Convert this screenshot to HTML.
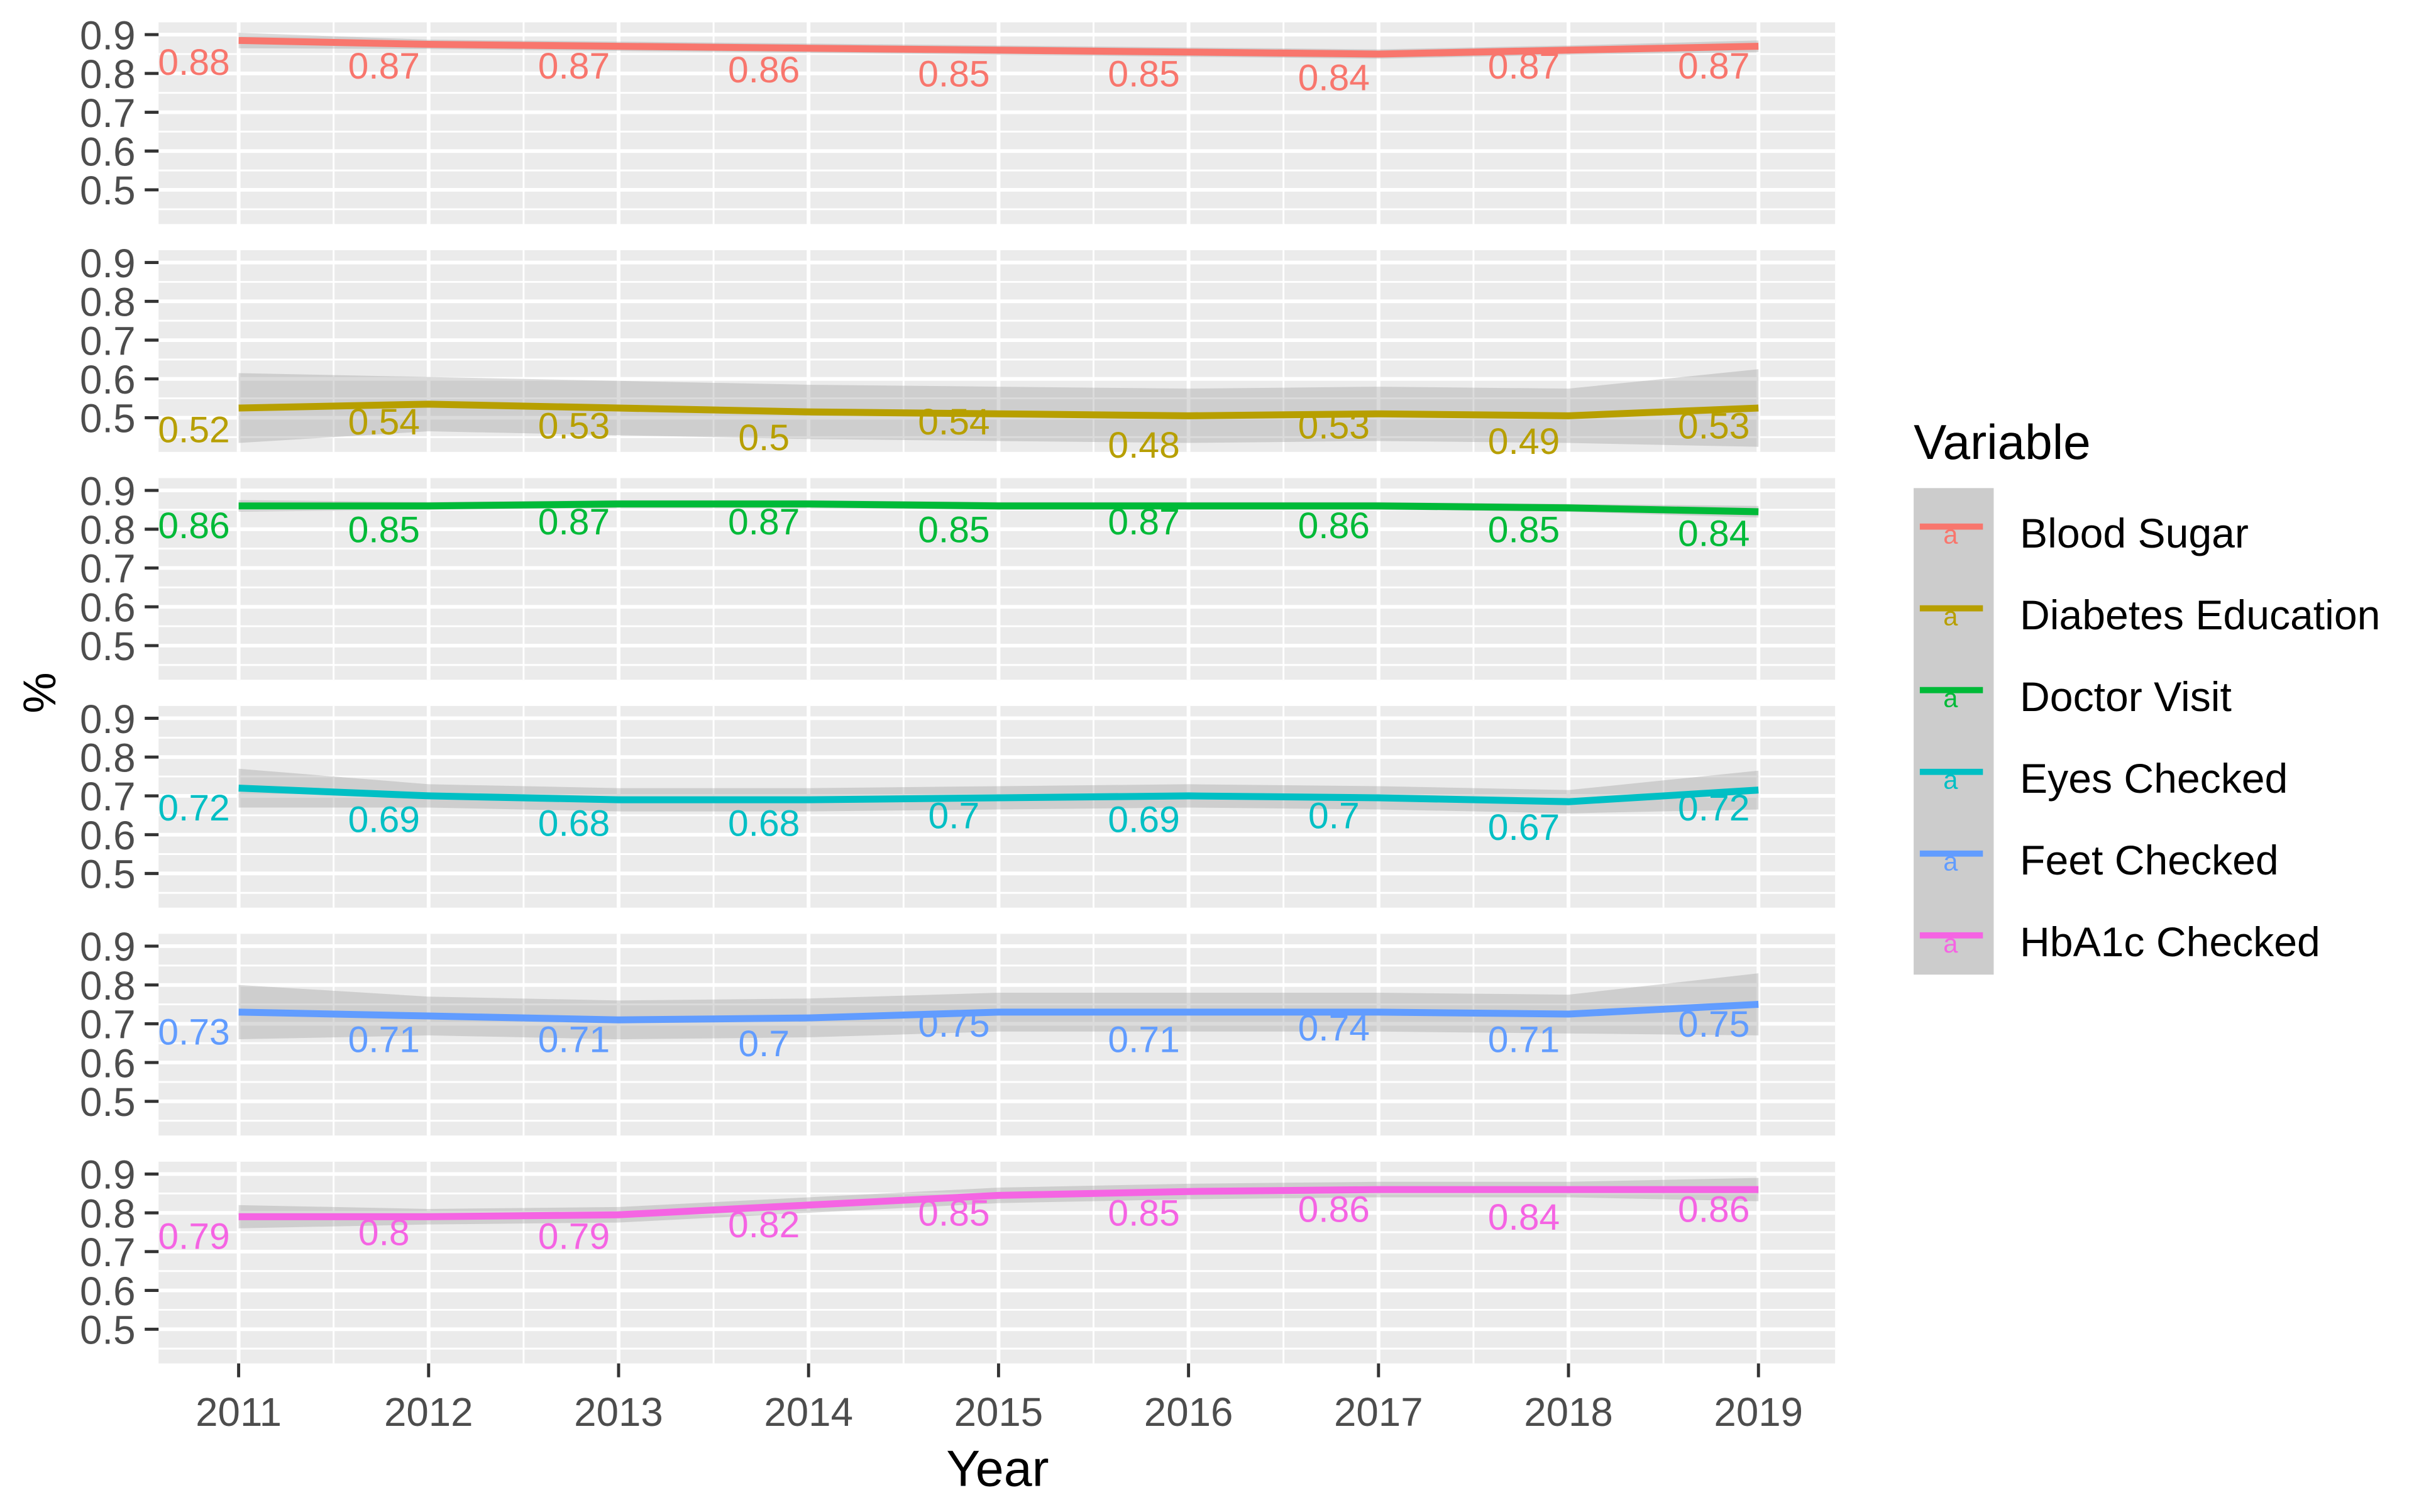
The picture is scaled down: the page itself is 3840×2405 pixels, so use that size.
<!DOCTYPE html>
<html><head><meta charset="utf-8">
<style>html,body{margin:0;padding:0;background:#fff}svg{display:block}text{font-family:"Liberation Sans",sans-serif}</style>
</head><body>
<svg id="chart" xmlns="http://www.w3.org/2000/svg" width="3840" height="2405" viewBox="0 0 1568 982" preserveAspectRatio="none">
<rect width="1568" height="982" fill="#fff"/>
<g id="panels"></g>
<g id="xaxis"></g>
<text x="648" y="965" font-size="33" text-anchor="middle" fill="#000">Year</text>
<text x="0" y="0" font-size="30" text-anchor="middle" fill="#000" transform="translate(36,450) rotate(-90)">%</text>
<g id="legend">
<text x="1243" y="298" font-size="32" fill="#000">Variable</text>
<rect x="1243" y="317" width="52" height="316" fill="#cccccc"/>
</g>
</svg>
<script>
const years = [2011,2012,2013,2014,2015,2016,2017,2018,2019];
const seriesNames = ["Blood Sugar","Diabetes Education","Doctor Visit","Eyes Checked","Feet Checked","HbA1c Checked"];
const colors = ["#F8766D","#B79F00","#00BA38","#00BFC4","#619CFF","#F564E3"];
const yTicks = [0.5,0.6,0.7,0.8,0.9];
const yTickLabels = ["0.5","0.6","0.7","0.8","0.9"];
const bloodSugar = [0.88,0.87,0.87,0.86,0.85,0.85,0.84,0.87,0.87];
const diabetesEducation = [0.52,0.54,0.53,0.5,0.54,0.48,0.53,0.49,0.53];
const doctorVisit = [0.86,0.85,0.87,0.87,0.85,0.87,0.86,0.85,0.84];
const eyesChecked = [0.72,0.69,0.68,0.68,0.7,0.69,0.7,0.67,0.72];
const feetChecked = [0.73,0.71,0.71,0.7,0.75,0.71,0.74,0.71,0.75];
const hba1cChecked = [0.79,0.8,0.79,0.82,0.85,0.85,0.86,0.84,0.86];
const fitBloodSugar = [0.885,0.875,0.87,0.865,0.86,0.855,0.85,0.86,0.87];
const fitDiabetesEducation = [0.525,0.535,0.525,0.515,0.51,0.505,0.51,0.505,0.525];
const fitDoctorVisit = [0.86,0.86,0.865,0.865,0.86,0.86,0.86,0.855,0.845];
const fitEyesChecked = [0.72,0.70,0.69,0.69,0.695,0.70,0.695,0.685,0.715];
const fitFeetChecked = [0.73,0.72,0.71,0.715,0.73,0.73,0.73,0.725,0.75];
const fitHba1cChecked = [0.79,0.79,0.795,0.82,0.845,0.855,0.86,0.86,0.86];
const bandBloodSugar = [0.02,0.012,0.012,0.012,0.012,0.012,0.012,0.012,0.015];
const bandDiabetesEducation = [0.09,0.07,0.07,0.07,0.07,0.07,0.07,0.07,0.1];
const bandDoctorVisit = [0.015,0.01,0.01,0.01,0.01,0.01,0.01,0.01,0.015];
const bandEyesChecked = [0.05,0.03,0.03,0.03,0.03,0.03,0.03,0.03,0.05];
const bandFeetChecked = [0.07,0.05,0.05,0.05,0.05,0.05,0.05,0.05,0.08];
const bandHba1cChecked = [0.03,0.02,0.02,0.02,0.02,0.02,0.02,0.02,0.03];

const labelSets = [bloodSugar,diabetesEducation,doctorVisit,eyesChecked,feetChecked,hba1cChecked];
const fitSets = [fitBloodSugar,fitDiabetesEducation,fitDoctorVisit,fitEyesChecked,fitFeetChecked,fitHba1cChecked];
const bandSets = [bandBloodSugar,bandDiabetesEducation,bandDoctorVisit,bandEyesChecked,bandFeetChecked,bandHba1cChecked];

const NS="http://www.w3.org/2000/svg";
const PL=103, PR=1192, PANEL_STEP=148, TOP0=14.5, PH=131;
function xScale(yr){return 155+(yr-2011)*123.4;}
function yScale(v,p){return TOP0+p*PANEL_STEP+8+(0.9-v)*252;}
function mk(tag,attrs,parent){const e=document.createElementNS(NS,tag);for(const k in attrs)e.setAttribute(k,attrs[k]);parent.appendChild(e);return e;}

const panels=document.getElementById('panels');
seriesNames.forEach((name,p)=>{
  const g=mk('g',{},panels);
  
  
  const top=TOP0+p*PANEL_STEP;
  const bg=mk('rect',{x:PL,y:top,width:PR-PL,height:PH,fill:'#EBEBEB'},g);
  
  
  for(let v=0.45;v<0.95;v+=0.1){const y=yScale(v,p);if(y>top&&y<top+PH){const l=mk('line',{x1:PL,x2:PR,y1:y,y2:y,stroke:'#fff','stroke-width':1.2},g);}}
  for(let i=0;i<=years.length;i++){const x=xScale(2010.5+i);if(x>PL&&x<PR){const l=mk('line',{x1:x,x2:x,y1:top,y2:top+PH,stroke:'#fff','stroke-width':1.2},g);}}
  yTicks.forEach((v,i)=>{
    const y=yScale(v,p);
    const l=mk('line',{x1:PL,x2:PR,y1:y,y2:y,stroke:'#fff','stroke-width':2.4},g);
    
    
    const t=mk('line',{x1:94,x2:PL,y1:y,y2:y,stroke:'#333','stroke-width':2},g);
    
    
    const tx=mk('text',{x:88,y:y+9.5,'font-size':26,'text-anchor':'end',fill:'#4D4D4D'},g);
    tx.textContent=yTickLabels[i];
    
    
  });
  years.forEach(yr=>{const x=xScale(yr);const l=mk('line',{x1:x,x2:x,y1:top,y2:top+PH,stroke:'#fff','stroke-width':2.4},g);});
  const fit=fitSets[p], band=bandSets[p];
  let up=years.map((yr,i)=>xScale(yr)+','+yScale(fit[i]+band[i],p));
  let dn=years.map((yr,i)=>xScale(yr)+','+yScale(fit[i]-band[i],p)).reverse();
  const rib=mk('polygon',{points:up.concat(dn).join(' '),fill:'#999','fill-opacity':0.35},g);
  
  
  const line=mk('polyline',{points:years.map((yr,i)=>xScale(yr)+','+yScale(fit[i],p)).join(' '),fill:'none',stroke:colors[p],'stroke-width':4.5},g);
  
  
  labelSets[p].forEach((v,i)=>{
    const t=mk('text',{x:xScale(years[i])-29,y:yScale(v,p)+21,'font-size':24,'text-anchor':'middle',fill:colors[p]},g);
    t.textContent=String(v);
    
    
  });
});
const xa=document.getElementById('xaxis');
const bottom=TOP0+5*PANEL_STEP+PH;
years.forEach(yr=>{
  const x=xScale(yr);
  const t=mk('line',{x1:x,x2:x,y1:bottom,y2:bottom+9,stroke:'#333','stroke-width':2},xa);
  
  
  const tx=mk('text',{x:x,y:926,'font-size':26,'text-anchor':'middle',fill:'#4D4D4D'},xa);
  tx.textContent=String(yr);
  
  
});
const lg=document.getElementById('legend');
seriesNames.forEach((name,i)=>{
  const y=342+i*53.1;
  const e=mk('g',{},lg);
  
  
  const l=mk('line',{x1:1247,x2:1288,y1:y,y2:y,stroke:colors[i],'stroke-width':4},e);
  
  
  const a=mk('text',{x:1267,y:y+11,'font-size':17,'text-anchor':'middle',fill:colors[i]},e);
  a.textContent='a';
  
  
  const t=mk('text',{x:1312,y:y+13.6,'font-size':27,fill:'#000'},e);
  t.textContent=name;
  
  
});
</script>
</body></html>
